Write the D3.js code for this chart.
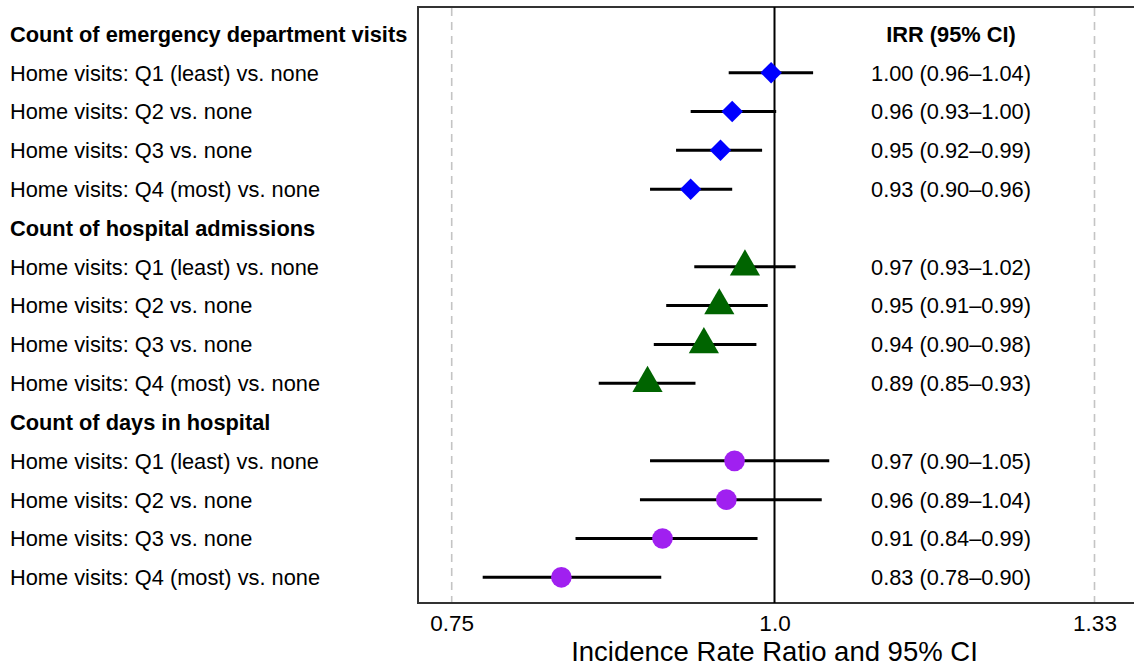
<!DOCTYPE html>
<html>
<head>
<meta charset="utf-8">
<script src="https://cdn.jsdelivr.net/npm/d3@7"></script>
<style>
    body { margin: 0; background: #fff; }
    text { font-family: "Liberation Sans", Arial, sans-serif; fill: #000; }
</style>
</head>
<body>
<div id="forest"></div>
<script>
// outcome groups and comparisons
const groupTitles = ["Count of emergency department visits", "Count of hospital admissions", "Count of days in hospital"];
const comparisons = ["Home visits: Q1 (least) vs. none", "Home visits: Q2 vs. none", "Home visits: Q3 vs. none", "Home visits: Q4 (most) vs. none"];

// estimates (IRR, lower, upper)
const edEst = [0.997, 0.963, 0.953, 0.928];
const edLow = [0.960, 0.928, 0.916, 0.895];
const edHigh = [1.035, 1.0015, 0.989, 0.963];

const admEst = [0.974, 0.952, 0.939, 0.893];
const admLow = [0.931, 0.908, 0.898, 0.855];
const admHigh = [1.019, 0.994, 0.984, 0.932];

const daysEst = [0.965, 0.958, 0.905, 0.827];
const daysLow = [0.895, 0.887, 0.8375, 0.771];
const daysHigh = [1.050, 1.043, 0.985, 0.904];

// printed IRR column
const edText = ["1.00 (0.96\u20131.04)", "0.96 (0.93\u20131.00)", "0.95 (0.92\u20130.99)", "0.93 (0.90\u20130.96)"];
const admText = ["0.97 (0.93\u20131.02)", "0.95 (0.91\u20130.99)", "0.94 (0.90\u20130.98)", "0.89 (0.85\u20130.93)"];
const daysText = ["0.97 (0.90\u20131.05)", "0.96 (0.89\u20131.04)", "0.91 (0.84\u20130.99)", "0.83 (0.78\u20130.90)"];

const xTicks = [0.75, 1.0, 1.33];
const xTickLabels = ["0.75", "1.0", "1.33"];

const width = 1134, height = 669;
const panel = {left: 418, top: 7, bottom: 603};

// build rows: header then four comparisons for each group
let series = [
    {est: edEst, low: edLow, high: edHigh, text: edText, shape: "diamond", color: "#0000ff"},
    {est: admEst, low: admLow, high: admHigh, text: admText, shape: "triangle", color: "#006400"},
    {est: daysEst, low: daysLow, high: daysHigh, text: daysText, shape: "circle", color: "#a020f0"}
];
let rows = [];
series.forEach((s, g) => {
    rows.push({header: true, label: groupTitles[g]});
    comparisons.forEach((c, i) => {
        rows.push({header: false, label: c, est: s.est[i], low: s.low[i], high: s.high[i],
            text: s.text[i], shape: s.shape, color: s.color});
    });
});

let svg = d3.select("#forest").append("svg")
    .attr("width", width)
    .attr("height", height);

let x = d3.scaleLog().domain([0.75, 1.33]).range([451.7, 1094.5]);
let y = d3.scaleLinear().domain([0, rows.length - 1]).range([33.9, 577.3]);

// panel box (right side runs off the canvas)
svg.append("rect")
    .attr("x", panel.left)
    .attr("y", panel.top)
    .attr("width", width - panel.left + 10)
    .attr("height", panel.bottom - panel.top)
    .attr("fill", "none")
    .attr("stroke", "#333")
    .attr("stroke-width", 2);

// dashed reference lines at the outer ticks
svg.selectAll(".guide")
    .data([0.75, 1.33])
    .enter()
    .append("line")
    .attr("class", "guide")
    .attr("x1", d => x(d)).attr("x2", d => x(d))
    .attr("y1", panel.top + 1).attr("y2", panel.bottom - 1)
    .attr("stroke", "#c4c4c4")
    .attr("stroke-width", 1.6)
    .attr("stroke-dasharray", "8,6");

// null line
svg.append("line")
    .attr("x1", x(1)).attr("x2", x(1))
    .attr("y1", panel.top).attr("y2", panel.bottom)
    .attr("stroke", "#000")
    .attr("stroke-width", 2);

let dataRows = rows.map((r, i) => Object.assign({i: i}, r)).filter(r => !r.header);

// CI lines
svg.selectAll(".ci")
    .data(dataRows)
    .enter()
    .append("line")
    .attr("class", "ci")
    .attr("x1", d => x(d.low)).attr("x2", d => x(d.high))
    .attr("y1", d => y(d.i)).attr("y2", d => y(d.i))
    .attr("stroke", "#000")
    .attr("stroke-width", 3);

// point estimates
let symbolFor = {
    diamond: d3.symbol().type(d3.symbolSquare).size(230),
    triangle: d3.symbol().type(d3.symbolTriangle).size(395),
    circle: d3.symbol().type(d3.symbolCircle).size(335)
};
svg.selectAll(".pt")
    .data(dataRows)
    .enter()
    .append("path")
    .attr("class", "pt")
    .attr("d", d => symbolFor[d.shape]())
    .attr("transform", d => `translate(${x(d.est)},${y(d.i)})` + (d.shape === "diamond" ? " rotate(45)" : ""))
    .attr("fill", d => d.color);

// left labels
svg.selectAll(".lab")
    .data(rows.map((r, i) => Object.assign({i: i}, r)))
    .enter()
    .append("text")
    .attr("class", "lab")
    .attr("x", 10)
    .attr("y", d => y(d.i))
    .attr("dy", "0.36em")
    .style("font-size", "21.8px")
    .style("font-weight", d => d.header ? "bold" : "normal")
    .text(d => d.label);

// IRR column
svg.append("text")
    .attr("x", 951)
    .attr("y", y(0))
    .attr("dy", "0.36em")
    .attr("text-anchor", "middle")
    .style("font-size", "21.8px")
    .style("font-weight", "bold")
    .text("IRR (95% CI)");

svg.selectAll(".irr")
    .data(dataRows)
    .enter()
    .append("text")
    .attr("class", "irr")
    .attr("x", 951)
    .attr("y", d => y(d.i))
    .attr("dy", "0.36em")
    .attr("text-anchor", "middle")
    .style("font-size", "21.8px")
    .text(d => d.text);

// x axis labels
let xAxis = svg.append("g")
    .attr("transform", `translate(0,${panel.bottom})`)
    .call(d3.axisBottom(x).tickValues(xTicks).tickFormat((d, i) => xTickLabels[i]).tickSize(0).tickPadding(12));
xAxis.select(".domain").remove();
xAxis.selectAll("text")
    .style("font-family", "Liberation Sans, Arial, sans-serif")
    .style("font-size", "22.5px")
    .attr("fill", "#000");

svg.append("text")
    .attr("x", x(1))
    .attr("y", 661)
    .attr("text-anchor", "middle")
    .style("font-size", "27.5px")
    .text("Incidence Rate Ratio and 95% CI");
</script>
</body>
</html>
